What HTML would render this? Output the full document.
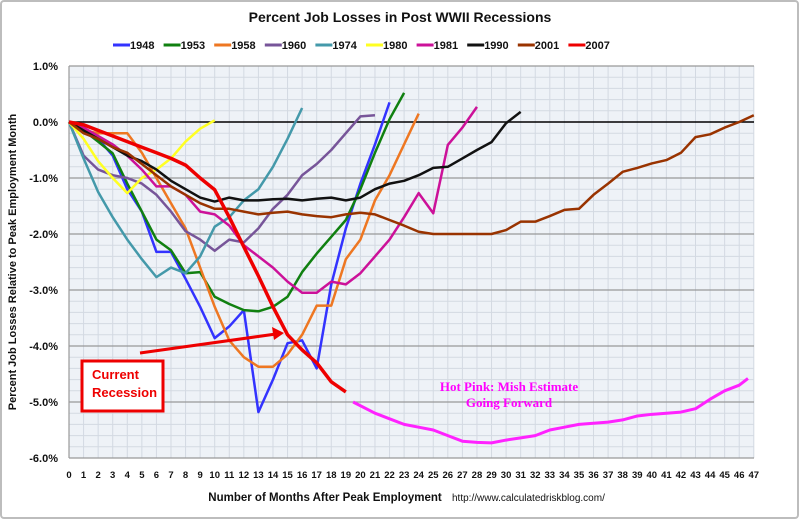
<!DOCTYPE html>
<html><head><meta charset="utf-8"><style>
html,body{margin:0;padding:0;background:#fff;}
svg{display:block;font-family:"Liberation Sans",sans-serif;}
</style></head><body>
<svg id="c" width="800" height="520" viewBox="0 0 800 520">
<rect x="1" y="1" width="797" height="517" rx="3" fill="#fff" stroke="#bdbdbd" stroke-width="2"/>
<text x="400" y="22" text-anchor="middle" font-size="14" font-weight="bold" fill="#111">Percent Job Losses in Post WWII Recessions</text>
<g id="legend"></g>
<rect x="69" y="66" width="685" height="392" fill="#eef2f7"/>
<g id="grid"></g>
<g id="axes"></g>
<g id="series"></g>
<g>
<line x1="140" y1="353" x2="276" y2="334" stroke="#e00" stroke-width="3"/>
<polygon points="284,333 272,327 274,340" fill="#e00"/>
<rect x="82" y="361" width="81" height="50" fill="#fff" stroke="#e00" stroke-width="3"/>
<text x="92" y="379" font-size="13" font-weight="bold" fill="#e00">Current</text>
<text x="92" y="397" font-size="13" font-weight="bold" fill="#e00">Recession</text>
</g>
<g>
<text x="509" y="391" text-anchor="middle" font-family="Liberation Serif,serif" font-size="13" font-weight="bold" fill="#f0f">Hot Pink: Mish Estimate</text>
<text x="509" y="407" text-anchor="middle" font-family="Liberation Serif,serif" font-size="13" font-weight="bold" fill="#f0f">Going Forward</text>
</g>
<text transform="translate(16,262) rotate(-90)" text-anchor="middle" font-size="11" font-weight="bold" fill="#111">Percent Job Losses Relative to Peak Employment Month</text>
<text x="325" y="501" text-anchor="middle" font-size="11.5" font-weight="bold" fill="#111">Number of Months After Peak Employment</text>
<text x="452" y="501" font-size="10" fill="#111">http://www.calculatedriskblog.com/</text>
</svg>
<script>
const years = ["1948","1953","1958","1960","1974","1980","1981","1990","2001","2007"];
const colors = ["#3333ff","#108010","#ee7722","#775599","#4499aa","#ffff22","#cc1199","#111111","#993300","#ee0000"];
const s1948 = [0,-0.1,-0.3,-0.6,-1.2,-1.6,-2.32,-2.32,-2.8,-3.3,-3.86,-3.65,-3.36,-5.18,-4.6,-3.95,-3.9,-4.4,-2.9,-1.9,-1.1,-0.4,0.35];
const s1953 = [0,-0.15,-0.35,-0.56,-1.1,-1.6,-2.1,-2.29,-2.7,-2.68,-3.12,-3.25,-3.36,-3.38,-3.3,-3.12,-2.68,-2.35,-2.05,-1.75,-1.2,-0.55,0.05,0.52];
const s1958 = [0,-0.15,-0.2,-0.2,-0.2,-0.55,-1.0,-1.45,-1.9,-2.6,-3.3,-3.9,-4.2,-4.37,-4.37,-4.15,-3.8,-3.28,-3.28,-2.45,-2.1,-1.4,-0.95,-0.4,0.15];
const s1960 = [0,-0.6,-0.85,-0.95,-1.0,-1.1,-1.3,-1.6,-1.95,-2.1,-2.3,-2.1,-2.15,-1.9,-1.55,-1.3,-0.95,-0.75,-0.5,-0.2,0.1,0.12];
const s1974 = [0,-0.65,-1.25,-1.7,-2.1,-2.45,-2.77,-2.6,-2.7,-2.4,-1.87,-1.7,-1.4,-1.2,-0.8,-0.3,0.25];
const s1980 = [0,-0.3,-0.7,-1.0,-1.27,-1.0,-0.85,-0.65,-0.35,-0.12,0.03];
const s1981 = [0,-0.1,-0.25,-0.4,-0.6,-0.85,-1.15,-1.15,-1.3,-1.6,-1.65,-1.85,-2.2,-2.4,-2.6,-2.85,-3.05,-3.05,-2.85,-2.9,-2.7,-2.4,-2.1,-1.7,-1.27,-1.63,-0.41,-0.1,0.27];
const s1990 = [0,-0.15,-0.3,-0.45,-0.6,-0.7,-0.85,-1.05,-1.2,-1.35,-1.42,-1.35,-1.4,-1.4,-1.38,-1.37,-1.4,-1.37,-1.35,-1.4,-1.35,-1.2,-1.1,-1.05,-0.95,-0.82,-0.8,-0.65,-0.5,-0.36,-0.02,0.18];
const s2001 = [0,-0.2,-0.3,-0.45,-0.55,-0.75,-0.95,-1.15,-1.3,-1.45,-1.55,-1.55,-1.6,-1.65,-1.62,-1.6,-1.65,-1.68,-1.7,-1.65,-1.62,-1.65,-1.75,-1.85,-1.96,-2.0,-2.0,-2.0,-2.0,-2.0,-1.93,-1.78,-1.78,-1.68,-1.57,-1.55,-1.3,-1.1,-0.89,-0.82,-0.74,-0.68,-0.55,-0.27,-0.22,-0.1,0.0,0.12];
const s2007 = [0,-0.05,-0.15,-0.25,-0.35,-0.45,-0.55,-0.65,-0.77,-1.0,-1.21,-1.7,-2.23,-2.75,-3.3,-3.8,-4.07,-4.3,-4.64,-4.82];
const allSeries = [s1948,s1953,s1958,s1960,s1974,s1980,s1981,s1990,s2001,s2007];
const estMonths = [19.5,21,22,23,24,25,26,27,28,29,30,31,32,33,34,35,36,37,38,39,40,41,42,43,44,45,46,46.6];
const estValues = [-5.0,-5.2,-5.3,-5.4,-5.45,-5.5,-5.6,-5.7,-5.72,-5.73,-5.68,-5.64,-5.6,-5.5,-5.45,-5.4,-5.38,-5.36,-5.32,-5.25,-5.22,-5.2,-5.18,-5.12,-4.95,-4.8,-4.7,-4.58];
const yTicks = [1,0,-1,-2,-3,-4,-5,-6];
const xTickCount = 48;

const NS="http://www.w3.org/2000/svg";
const X0=69, DX=14.57, Y0=122, DY=56;
function xs(m){return X0+m*DX;}
function ys(v){return Y0-v*DY;}
function mk(tag,attrs,parent){const e=document.createElementNS(NS,tag);for(const k in attrs)e.setAttribute(k,attrs[k]);parent.appendChild(e);return e;}

const grid=document.getElementById('grid');
for(let v=1;v>=-6.001;v-=0.2){
  const l=mk('line',{x1:X0,x2:754,y1:ys(v),y2:ys(v),stroke:'#d3d9e2','stroke-width':1},grid);
  
  
}
for(let m=0;m<xTickCount;m++){
  const l=mk('line',{x1:xs(m),x2:xs(m),y1:66,y2:458,stroke:'#d3d9e2','stroke-width':1},grid);
  
  
}
const axes=document.getElementById('axes');
yTicks.forEach(v=>{
  const l=mk('line',{x1:X0,x2:754,y1:ys(v),y2:ys(v),stroke:v===0?'#000':'#999','stroke-width':v===0?1.5:1.2},axes);
  
  
  const t=mk('text',{x:58,y:ys(v)+4,'text-anchor':'end','font-size':'11','font-weight':'bold',fill:'#111'},axes);
  t.textContent=v.toFixed(1)+'%';
  
  
});
mk('line',{x1:X0,x2:X0,y1:66,y2:458,stroke:'#999','stroke-width':1.2},axes);
for(let m=0;m<xTickCount;m++){
  const t=mk('text',{x:xs(m),y:478,'text-anchor':'middle','font-size':'9.5','font-weight':'bold',fill:'#111'},axes);
  t.textContent=String(m);
  
  
}
const sg=document.getElementById('series');
allSeries.forEach((s,i)=>{
  const p=mk('polyline',{points:s.map((v,m)=>xs(m)+','+ys(v)).join(' '),fill:'none',stroke:colors[i],'stroke-width':i===9?3.5:2.5,'stroke-linejoin':'round'},sg);
  
  
});
const ep=mk('polyline',{points:estMonths.map((m,i)=>xs(m)+','+ys(estValues[i])).join(' '),fill:'none',stroke:'#ff22ff','stroke-width':3,'stroke-linejoin':'round'},sg);


const lg=document.getElementById('legend');
years.forEach((y,i)=>{
  const x=113+i*50.6;
  const g=mk('g',{},lg);
  
  
  mk('line',{x1:x,x2:x+17,y1:45,y2:45,stroke:colors[i],'stroke-width':3},g);
  const t=mk('text',{x:x+17,y:49,'font-size':'11','font-weight':'bold',fill:'#111'},g);
  t.textContent=y;
});
</script>
</body></html>
